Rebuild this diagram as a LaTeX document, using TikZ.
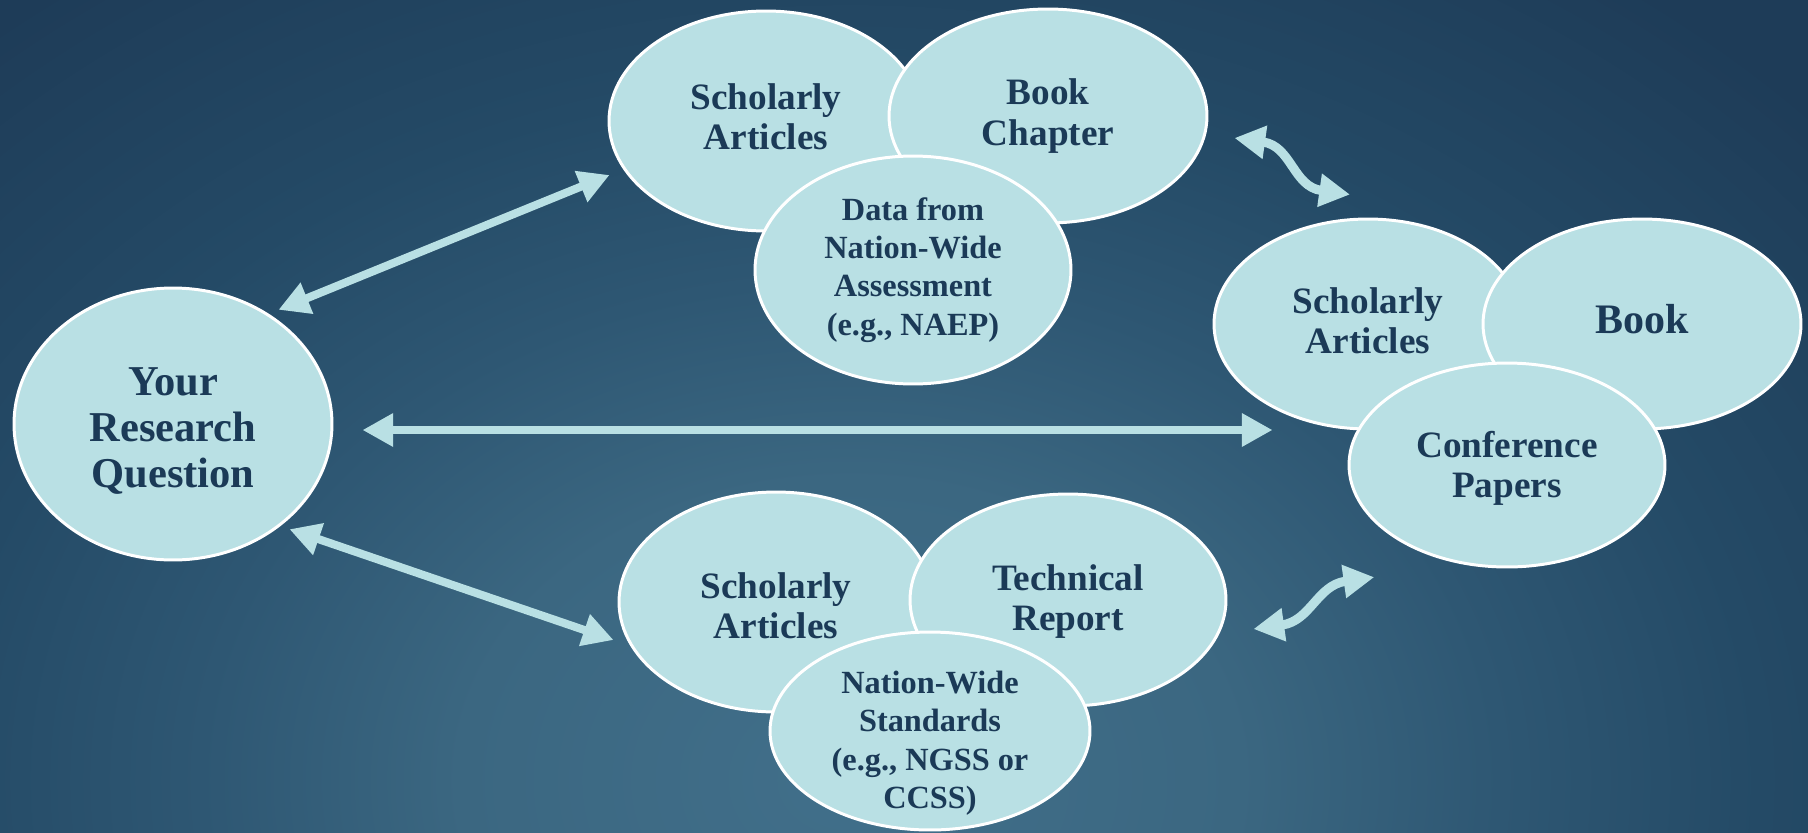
\documentclass[tikz,border=0pt]{standalone}
\usepackage{fontspec}
\setmainfont{Liberation Serif}
\usetikzlibrary{shapes.geometric,arrows.meta}

\definecolor{ink}{HTML}{1B3A57}
\definecolor{blobfill}{HTML}{B9E0E4}
\definecolor{bgin}{HTML}{416F8A}
\definecolor{bgone}{HTML}{3B6781}
\definecolor{bgtwo}{HTML}{2E5773}
\definecolor{bgthree}{HTML}{244A66}
\definecolor{bgout}{HTML}{1E3C58}

\pgfdeclareradialshading{glow}{\pgfpoint{0bp}{0bp}}{%
  color(0bp)=(bgin); color(7.5bp)=(bgone); color(12.5bp)=(bgtwo);
  color(17.5bp)=(bgthree); color(25bp)=(bgout); color(50bp)=(bgout)}

\tikzset{
  blob/.style={ellipse, draw=white, line width=1.7pt, fill=blobfill, inner sep=0pt},
  lbl/.style={align=center, text=ink, inner sep=0pt,
    font=\bfseries\fontsize{21.2}{23}\selectfont},
  lblbig/.style={lbl, font=\bfseries\fontsize{24.2}{26.2}\selectfont},
  lblsmall/.style={lbl, font=\bfseries\fontsize{18.4}{21.8}\selectfont},
  link/.style={draw=blobfill, line width=4.6pt,
    {Triangle[length=17.5pt,width=18pt]}-{Triangle[length=17.5pt,width=18pt]}},
  wavy/.style={link, line width=5.2pt}
}

\begin{document}
\begin{tikzpicture}[x=0.02cm, y=-0.02cm]
  \useasboundingbox (0,0) rectangle (1808,832);

  % background
  \fill[bgout] (0,0) rectangle (1808,832);
  \begin{scope}
    \clip (0,0) rectangle (1808,832);
    \shade[shading=glow] (850,780) ellipse [x radius=1300, y radius=1000];
  \end{scope}

  % the question
  \node[blob, minimum width=6.36cm, minimum height=5.44cm] (yrq) at (173,424) {};
  \node[lblbig] (yrq-txt) at ([yshift=-4]yrq) {Your\\Research\\Question};

  % top group
  \node[blob, minimum width=6.28cm, minimum height=4.4cm] (sa1) at (766,121) {};
  \node[lbl] (sa1-txt) at ([yshift=2.5]sa1) {Scholarly\\Articles};
  \node[blob, minimum width=6.36cm, minimum height=4.28cm] (bc) at (1048,116) {};
  \node[lbl] (bc-txt) at (bc) {Book\\Chapter};
  \node[blob, minimum width=6.32cm, minimum height=4.56cm] (df) at (913,270) {};
  \node[lblsmall] (df-txt) at (df) {Data from\\Nation-Wide\\Assessment\\(e.g., NAEP)};

  % right group
  \node[blob, minimum width=6.16cm, minimum height=4.2cm] (sa2) at (1368,324) {};
  \node[lbl] (sa2-txt) at ([yshift=2]sa2) {Scholarly\\Articles};
  \node[blob, minimum width=6.36cm, minimum height=4.2cm] (bk) at (1642,324) {};
  \node[lbl, font=\bfseries\fontsize{23.9}{26}\selectfont] (bk-txt) at ([yshift=2.5]bk) {Book};
  \node[blob, minimum width=6.32cm, minimum height=4.08cm] (cp) at (1507,465) {};
  \node[lbl] (cp-txt) at ([yshift=-2]cp) {Conference\\Papers};

  % bottom group
  \node[blob, minimum width=6.28cm, minimum height=4.4cm] (sa3) at (776,602) {};
  \node[lbl] (sa3-txt) at ([yshift=-2]sa3) {Scholarly\\Articles};
  \node[blob, minimum width=6.32cm, minimum height=4.24cm] (tr) at (1068,600) {};
  \node[lbl] (tr-txt) at ([yshift=-1]tr) {Technical\\Report};
  \node[blob, minimum width=6.4cm, minimum height=3.96cm] (ns) at (930,731) {};
  \node[lblsmall] (ns-txt) at ([yshift=-7]ns) {Nation-Wide\\Standards\\(e.g., NGSS or\\CCSS)};

  % arrows
  \draw[link] ([shift={(-8,-17)}]yrq.north east) -- ([shift={(2,54)}]sa1.west);
  \draw[link] ([shift={(29,6)}]yrq.east) -- ([shift={(-75,-35)}]cp.west);
  \draw[link] ([shift={(3,8)}]yrq.south east) -- ([shift={(-4,38)}]sa3.west);
  \draw[wavy] ([shift={(26,22)}]bc.east) .. controls +(57,8) and +(-57,-8) .. ([shift={(-18,-23)}]sa2.north);
  \draw[wavy] ([shift={(26,29)}]tr.east) .. controls +(57,-8) and +(-57,8) .. ([shift={(-20,39)}]cp.south west);
\end{tikzpicture}
\end{document}
